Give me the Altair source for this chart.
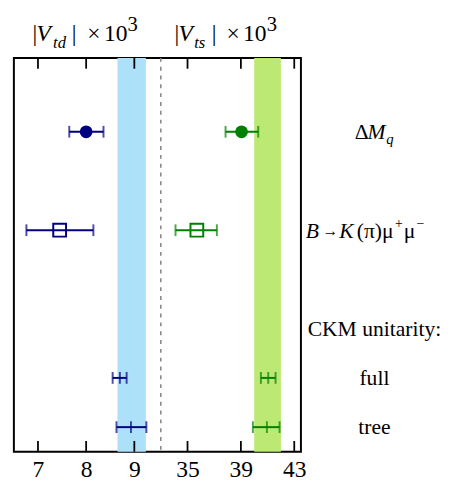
import altair as alt
import pandas as pd

# ---- data ----
row_order = ["pad0", "ΔMq", "pad1", "B→K(π)μ⁺μ⁻", "pad2", "CKM unitarity:", "full", "tree"]
rows = ["ΔMq", "B→K(π)μ⁺μ⁻", "full", "tree"]
markers = ["filled", "open", "none", "none"]

vtd_c = [8.00, 7.45, 8.70, 8.93]
vtd_lo = [7.65, 6.76, 8.55, 8.63]
vtd_hi = [8.36, 8.15, 8.84, 9.25]

vts_c = [39.05, 35.70, 41.05, 40.95]
vts_lo = [37.85, 34.10, 40.50, 39.90]
vts_hi = [40.30, 37.20, 41.60, 41.90]

vtd_band = [8.65, 9.24]
vts_band = [40.0, 42.0]

vtd_ticks = [7, 8, 9]
vts_ticks = [35, 39, 43]

right_labels = ["CKM unitarity:", "full", "tree"]

# ---- style ----
FONT = "Liberation Serif"
W, H = 293, 402
SPLIT = 150
BLUE, GREEN = "#000080", "#008000"
BLUE_BAND, GREEN_BAND = "#ade1fa", "#bce974"

yenc = alt.Y("cat:N", scale=alt.Scale(type="point", domain=row_order, padding=0.5), axis=None)


def side(c, lo, hi, band, ticks, domain, rng, color, band_color):
    scale = alt.Scale(domain=domain, range=rng, nice=False, zero=False)
    ax = alt.Axis(values=ticks, orient="bottom", ticks=False, domain=False, grid=False,
                  labelFont=FONT, labelFontSize=24, labelColor="black", labelPadding=6,
                  title=None, labelFlush=False)
    df = pd.DataFrame({"cat": rows, "c": c, "lo": lo, "hi": hi, "m": markers})
    caps = []
    for r, m, a, b, cc in zip(rows, markers, lo, hi, c):
        caps += [{"cat": r, "v": a}, {"cat": r, "v": b}]
        if m == "none":
            caps.append({"cat": r, "v": cc})
    caps = pd.DataFrame(caps)
    bdf = pd.DataFrame({"lo": [band[0]], "hi": [band[1]]})
    tdf = pd.DataFrame({"v": ticks})

    band_l = alt.Chart(bdf).mark_rect(color=band_color).encode(
        x=alt.X("lo:Q", scale=scale, axis=ax), x2="hi:Q")
    bar_l = alt.Chart(df).mark_rule(color=color, strokeWidth=2).encode(
        x=alt.X("lo:Q", scale=scale, axis=ax), x2="hi:Q", y=yenc)
    cap_l = alt.Chart(caps).mark_tick(color=color, orient="vertical", size=12, thickness=2).encode(
        x=alt.X("v:Q", scale=scale, axis=ax), y=yenc)
    filled = alt.Chart(df[df.m == "filled"]).mark_point(
        shape="circle", filled=True, size=170, color=color, opacity=1).encode(
        x=alt.X("c:Q", scale=scale, axis=ax), y=yenc)
    opened = alt.Chart(df[df.m == "open"]).mark_point(
        shape="square", filled=False, size=170, color=color, strokeWidth=2, opacity=1).encode(
        x=alt.X("c:Q", scale=scale, axis=ax), y=yenc)
    top_t = alt.Chart(tdf).mark_rule(color="black", strokeWidth=1.8).encode(
        x=alt.X("v:Q", scale=scale, axis=ax), y=alt.value(0), y2=alt.value(11))
    bot_t = alt.Chart(tdf).mark_rule(color="black", strokeWidth=1.8).encode(
        x=alt.X("v:Q", scale=scale, axis=ax), y=alt.value(H - 11), y2=alt.value(H))
    return alt.layer(band_l, bar_l, cap_l, filled, opened, top_t, bot_t)


left = side(vtd_c, vtd_lo, vtd_hi, vtd_band, vtd_ticks, [6.5, 9.55], [0, SPLIT], BLUE, BLUE_BAND)
right = side(vts_c, vts_lo, vts_hi, vts_band, vts_ticks, [33, 43.5], [SPLIT, W], GREEN, GREEN_BAND)

dash = alt.Chart(pd.DataFrame({"a": [0]})).mark_rule(
    color="#808080", strokeDash=[4, 5], strokeWidth=1.5).encode(x=alt.value(SPLIT))


def piece(text, x, y, size, italic=False, baseline="alphabetic", align="left", yfield=None):
    mk = alt.Chart(pd.DataFrame({"cat": [yfield] if yfield else ["x"]})).mark_text(
        text=text, font=FONT, fontSize=size, fontStyle="italic" if italic else "normal",
        align=align, baseline=baseline, color="black",
        dy=y if yfield else 0)
    if yfield:
        return mk.encode(x=alt.value(x), y=yenc)
    return mk.encode(x=alt.value(x), y=alt.value(y))


# titles: |V_td| x 10^3 and |V_ts| x 10^3
TB = -17
titles = [
    piece("|", 19, TB, 24), piece("V", 23, TB, 24, True), piece("td", 40, TB + 7, 17, True),
    piece("|", 59, TB, 24), piece("×", 75, TB, 24), piece("10", 92, TB, 24), piece("3", 116, TB - 10, 21),
    piece("|", 164, TB, 24), piece("V", 168, TB, 24, True), piece("ts", 184, TB + 7, 17, True),
    piece("|", 202, TB, 24), piece("×", 217, TB, 24), piece("10", 234, TB, 24), piece("3", 258, TB - 10, 21),
]

# right-hand labels
LX = 367
dm = [
    piece("Δ", LX - 19, 7, 22, yfield="ΔMq"),
    piece("M", LX - 6, 7, 22, True, yfield="ΔMq"),
    piece("q", LX + 13, 12, 15, True, yfield="ΔMq"),
]
BK = "B→K(π)μ⁺μ⁻"
bk = [
    piece("B", 298, 8, 22, True, yfield=BK),
    piece("→", 315, 6, 16, yfield=BK),
    piece("K", 332, 8, 22, True, yfield=BK),
    piece("(π)μ", 350, 8, 22, yfield=BK),
    piece("+", 389, -2, 14, yfield=BK),
    piece("μ", 398, 8, 22, yfield=BK),
    piece("−", 411, -2, 14, yfield=BK),
]
lab = alt.Chart(pd.DataFrame({"cat": right_labels})).mark_text(
    font=FONT, fontSize=22, align="center", baseline="middle", color="black").encode(
    x=alt.value(LX + 1), y=yenc, text="cat:N")

chart = alt.layer(left, right, dash, lab, *dm, *bk, *titles).resolve_scale(x="independent").properties(
    width=W, height=H, padding={"left": 6, "top": 2, "right": 0, "bottom": 0}
).configure_view(stroke="black", strokeWidth=2)

chart.save("out.html", embed_options={"renderer": "svg", "actions": False})
